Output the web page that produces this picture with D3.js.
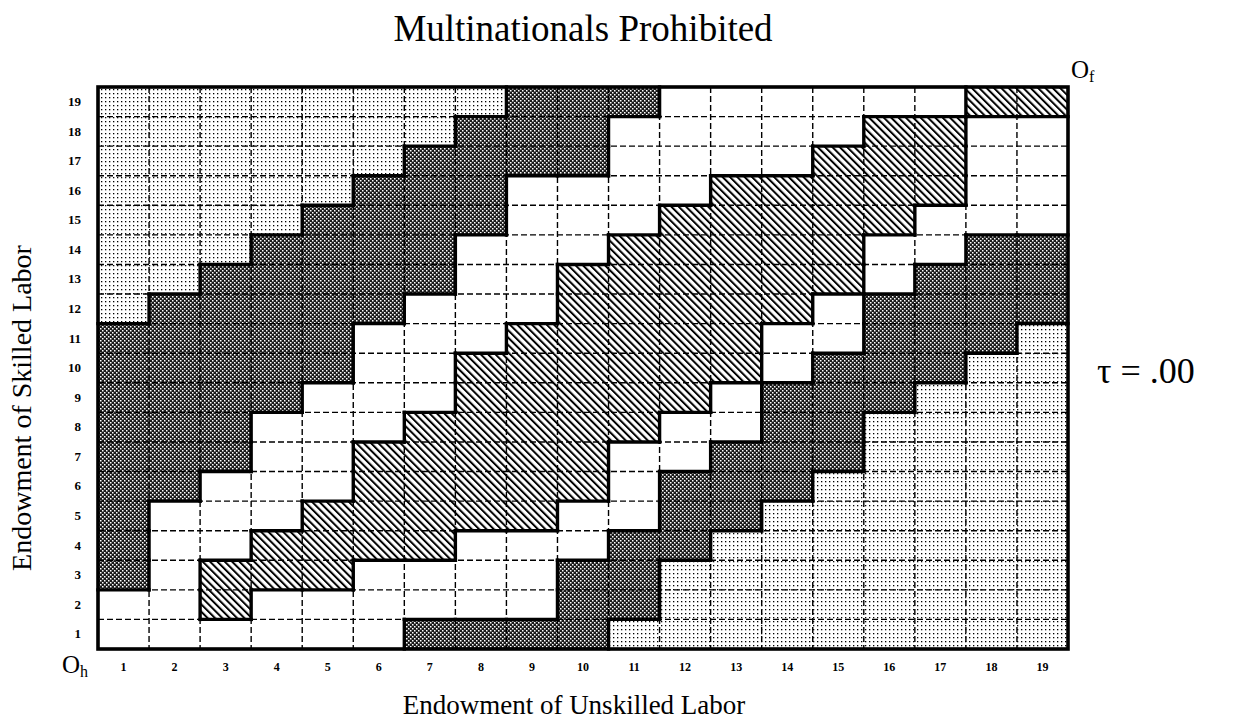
<!DOCTYPE html>
<html>
<head>
<meta charset="utf-8">
<script src="https://cdnjs.cloudflare.com/ajax/libs/d3/7.8.5/d3.min.js"></script>
<style>
  body { margin: 0; background: #fff; }
  text { font-family: "Liberation Serif", "DejaVu Serif", serif; fill: #000; }
</style>
</head>
<body>
<div id="viz"></div>
<script>
// endowment index along each axis
const colLabels = [1, 2, 3, 4, 5, 6, 7, 8, 9, 10, 11, 12, 13, 14, 15, 16, 17, 18, 19];
const rowLabels = [19, 18, 17, 16, 15, 14, 13, 12, 11, 10, 9, 8, 7, 6, 5, 4, 3, 2, 1];

// regime in each cell, one string per row (top row = 19), one char per column
// L = light dots, D = dark, W = blank, H = hatched
const regimeRows = [
  "LLLLLLLLDDDWWWWWWHH", // 19
  "LLLLLLLDDDWWWWWHHWW", // 18
  "LLLLLLDDDDWWWWHHHWW", // 17
  "LLLLLDDDWWWWHHHHHWW", // 16
  "LLLLDDDDWWWHHHHHWWW", // 15
  "LLLDDDDWWWHHHHHWWDD", // 14
  "LLDDDDDWWHHHHHHWDDD", // 13
  "LDDDDDWWWHHHHHWDDDD", // 12
  "DDDDDWWWHHHHHWWDDDL", // 11
  "DDDDDWWHHHHHHWDDDLL", // 10
  "DDDDWWWHHHHHWDDDLLL", // 9
  "DDDWWWHHHHHWWDDLLLL", // 8
  "DDDWWHHHHHWWDDDLLLL", // 7
  "DDWWWHHHHHWDDDLLLLL", // 6
  "DWWWHHHHHWWDDLLLLLL", // 5
  "DWWHHHHWWWDDLLLLLLL", // 4
  "DWHHHWWWWDDLLLLLLLL", // 3
  "WWHWWWWWWDDLLLLLLLL", // 2
  "WWWWWWDDDDLLLLLLLLL"  // 1
];

const title = "Multinationals Prohibited";
const xTitle = "Endowment of Unskilled Labor";
const yTitle = "Endowment of Skilled Labor";
const tauLabel = "τ = .00";

const width = 1239, height = 723;
const grid = {left: 98, right: 1068, top: 87, bottom: 649};

const svg = d3.select("#viz")
    .append("svg")
    .attr("width", width)
    .attr("height", height);

const defs = svg.append("defs");

// light dotted screen
const dots = defs.append("pattern")
    .attr("id", "dots")
    .attr("patternUnits", "userSpaceOnUse")
    .attr("width", 4).attr("height", 4);
dots.append("rect").attr("width", 4).attr("height", 4).attr("fill", "#fff");
dots.append("rect").attr("x", 1).attr("y", 1).attr("width", 1.3).attr("height", 1.3).attr("fill", "#000");

// dark screen
const dark = defs.append("pattern")
    .attr("id", "dark")
    .attr("patternUnits", "userSpaceOnUse")
    .attr("width", 4).attr("height", 4);
dark.append("rect").attr("width", 4).attr("height", 4).attr("fill", "#1a1a1a");
dark.append("rect").attr("x", 0).attr("y", 0).attr("width", 1.5).attr("height", 1.5).attr("fill", "#fff");
dark.append("rect").attr("x", 2).attr("y", 2).attr("width", 1.5).attr("height", 1.5).attr("fill", "#fff");

// diagonal hatching, running top-left to bottom-right
const hatch = defs.append("pattern")
    .attr("id", "hatch")
    .attr("patternUnits", "userSpaceOnUse")
    .attr("width", 5.2).attr("height", 5.2)
    .attr("patternTransform", "rotate(-45)");
hatch.append("rect").attr("width", 5.2).attr("height", 5.2).attr("fill", "#fff");
hatch.append("rect").attr("x", 0).attr("width", 2).attr("height", 5.2).attr("fill", "#000");

const fillFor = {L: "url(#dots)", D: "url(#dark)", H: "url(#hatch)", W: "#fff"};

const x = d3.scaleBand()
    .domain(colLabels)
    .range([grid.left, grid.right])
    .padding(0);

const y = d3.scaleBand()
    .domain(rowLabels)
    .range([grid.top, grid.bottom])
    .padding(0);

const cells = [];
regimeRows.forEach((str, i) => {
  colLabels.forEach((c, j) => {
    cells.push({row: rowLabels[i], col: c, type: str[j], i: i, j: j});
  });
});

svg.append("g")
    .selectAll("rect")
    .data(cells)
    .enter().append("rect")
    .attr("x", d => x(d.col))
    .attr("y", d => y(d.row))
    .attr("width", x.bandwidth() + 0.5)
    .attr("height", y.bandwidth() + 0.5)
    .attr("fill", d => fillFor[d.type]);

// dashed cell lines
const dashG = svg.append("g")
    .attr("stroke", "#000")
    .attr("stroke-width", 1.4)
    .attr("stroke-dasharray", "6,3");

dashG.selectAll(".vline")
    .data(colLabels.slice(1))
    .enter().append("line")
    .attr("x1", d => x(d)).attr("x2", d => x(d))
    .attr("y1", grid.top).attr("y2", grid.bottom);

dashG.selectAll(".hline")
    .data(rowLabels.slice(1))
    .enter().append("line")
    .attr("y1", d => y(d)).attr("y2", d => y(d))
    .attr("x1", grid.left).attr("x2", grid.right);

// thick borders between regimes
const borders = [];
cells.forEach(d => {
  if (d.j < colLabels.length - 1 && regimeRows[d.i][d.j + 1] !== d.type) {
    const xx = x(d.col) + x.bandwidth();
    borders.push([xx, y(d.row), xx, y(d.row) + y.bandwidth()]);
  }
  if (d.i > 0 && regimeRows[d.i - 1][d.j] !== d.type) {
    const yy = y(d.row);
    borders.push([x(d.col), yy, x(d.col) + x.bandwidth(), yy]);
  }
});

svg.append("g")
    .selectAll("line")
    .data(borders)
    .enter().append("line")
    .attr("x1", d => d[0]).attr("y1", d => d[1])
    .attr("x2", d => d[2]).attr("y2", d => d[3])
    .attr("stroke", "#000")
    .attr("stroke-width", 3.4)
    .attr("stroke-linecap", "square");

// outer frame
svg.append("rect")
    .attr("x", grid.left).attr("y", grid.top)
    .attr("width", grid.right - grid.left)
    .attr("height", grid.bottom - grid.top)
    .attr("fill", "none")
    .attr("stroke", "#000")
    .attr("stroke-width", 3.6);

// axes with only labels
const xAxis = svg.append("g")
    .attr("transform", "translate(0," + (grid.bottom + 10) + ")")
    .call(d3.axisBottom(x).tickSize(0));
xAxis.select(".domain").remove();
xAxis.selectAll("text")
    .attr("font-family", "Liberation Serif")
    .attr("font-weight", "bold")
    .attr("font-size", 12)
    .attr("fill", "#000");

const yAxis = svg.append("g")
    .attr("transform", "translate(" + (grid.left - 14) + ",0)")
    .call(d3.axisLeft(y).tickSize(0));
yAxis.select(".domain").remove();
yAxis.selectAll("text")
    .attr("font-family", "Liberation Serif")
    .attr("font-weight", "bold")
    .attr("font-size", 13)
    .attr("fill", "#000");

// titles
svg.append("text")
    .attr("x", (grid.left + grid.right) / 2)
    .attr("y", 41)
    .attr("text-anchor", "middle")
    .attr("font-size", 37)
    .text(title);

svg.append("text")
    .attr("x", 574)
    .attr("y", 714)
    .attr("text-anchor", "middle")
    .attr("font-size", 27)
    .text(xTitle);

svg.append("text")
    .attr("transform", "translate(31," + ((grid.top + grid.bottom) / 2 + 40) + ") rotate(-90)")
    .attr("text-anchor", "middle")
    .attr("font-size", 28)
    .text(yTitle);

svg.append("text")
    .attr("x", 1097)
    .attr("y", 383)
    .attr("font-size", 36)
    .text(tauLabel);

// origins
const oh = svg.append("text")
    .attr("x", 62)
    .attr("y", 673)
    .attr("font-size", 25);
oh.append("tspan").text("O");
oh.append("tspan").attr("font-size", 16).attr("dy", 4).text("h");

const of = svg.append("text")
    .attr("x", 1071)
    .attr("y", 78)
    .attr("font-size", 25);
of.append("tspan").text("O");
of.append("tspan").attr("font-size", 16).attr("dy", 4).text("f");
</script>
</body>
</html>
